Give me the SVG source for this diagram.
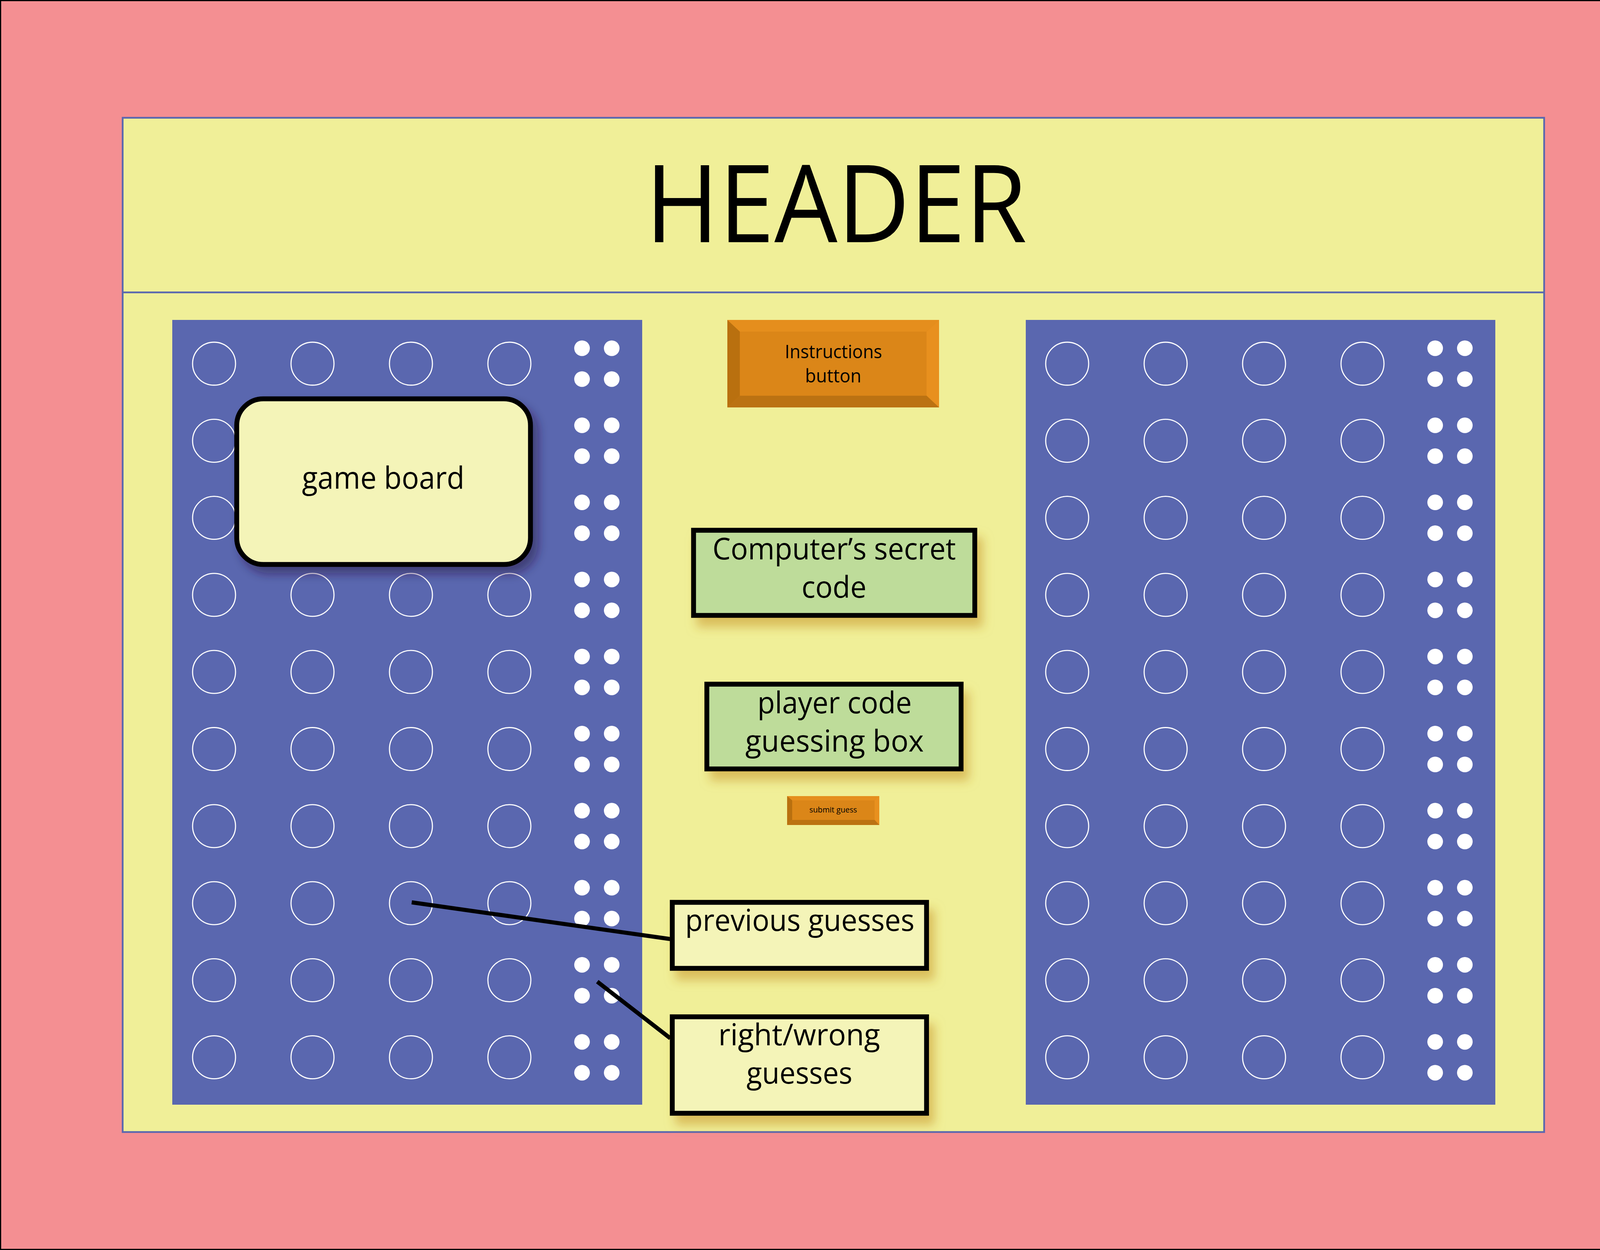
<svg xmlns="http://www.w3.org/2000/svg" width="4267" height="3200" viewBox="0 0 4267 3200">
<style>
.lbl{font-family:"Open Sans","Liberation Sans",sans-serif;fill:#000;text-anchor:start}
.peg{fill:none;stroke:#fff;stroke-width:2.8}
.dot{fill:#fff}
.panel{fill:#5A67AF}
.box{stroke:#000;stroke-width:12.5}
.conn{stroke:#000;stroke-width:10.5;stroke-linecap:butt;fill:none}
</style>
<defs>
<filter id="shBlue" x="-10%" y="-10%" width="130%" height="140%">
<feGaussianBlur in="SourceAlpha" stdDeviation="12"/>
<feOffset dx="14" dy="18" result="b"/>
<feFlood flood-color="#281440" flood-opacity="0.5"/>
<feComposite in2="b" operator="in"/>
<feMerge><feMergeNode/><feMergeNode in="SourceGraphic"/></feMerge>
</filter>
<filter id="shGold" x="-10%" y="-20%" width="130%" height="160%">
<feGaussianBlur in="SourceAlpha" stdDeviation="13"/>
<feOffset dx="14" dy="24" result="b"/>
<feFlood flood-color="#C8962A" flood-opacity="0.55"/>
<feComposite in2="b" operator="in"/>
<feMerge><feMergeNode/><feMergeNode in="SourceGraphic"/></feMerge>
</filter>
<g id="row">
<circle class="peg" cx="548" cy="0" r="55"/>
<circle class="peg" cx="800" cy="0" r="55"/>
<circle class="peg" cx="1052" cy="0" r="55"/>
<circle class="peg" cx="1304" cy="0" r="55"/>
<circle class="dot" cx="1490" cy="-39.5" r="20"/>
<circle class="dot" cx="1566" cy="-39.5" r="20"/>
<circle class="dot" cx="1490" cy="39.5" r="20"/>
<circle class="dot" cx="1566" cy="39.5" r="20"/>
</g>
</defs>

<g id="background">
<rect x="1.5" y="1.5" width="4264" height="3197" fill="#F48F92" stroke="#000" stroke-width="3"/>
<rect x="314" y="301.5" width="3639" height="2596.5" fill="#F0EF98" stroke="#5A67AF" stroke-width="4.5"/>
<line x1="314" y1="748.5" x2="3953" y2="748.5" stroke="#5A67AF" stroke-width="4.5"/>
</g>

<g id="header">
<text class="lbl" x="1652" y="620" font-size="276" textLength="977" lengthAdjust="spacingAndGlyphs">HEADER</text>
</g>

<g id="left-board">
<rect class="panel" x="441" y="819" width="1203" height="2009"/>
<use href="#row" y="931"/>
<use href="#row" y="1128.3"/>
<use href="#row" y="1325.6"/>
<use href="#row" y="1522.9"/>
<use href="#row" y="1720.2"/>
<use href="#row" y="1917.5"/>
<use href="#row" y="2114.8"/>
<use href="#row" y="2312.1"/>
<use href="#row" y="2509.4"/>
<use href="#row" y="2706.7"/>
</g>

<g id="right-board">
<rect class="panel" x="2626" y="819" width="1202" height="2009"/>
<use href="#row" x="2184" y="931"/>
<use href="#row" x="2184" y="1128.3"/>
<use href="#row" x="2184" y="1325.6"/>
<use href="#row" x="2184" y="1522.9"/>
<use href="#row" x="2184" y="1720.2"/>
<use href="#row" x="2184" y="1917.5"/>
<use href="#row" x="2184" y="2114.8"/>
<use href="#row" x="2184" y="2312.1"/>
<use href="#row" x="2184" y="2509.4"/>
<use href="#row" x="2184" y="2706.7"/>
</g>

<g id="game-board">
<rect class="box" x="606" y="1021" width="752" height="424" rx="68" ry="68" fill="#F4F4B8" filter="url(#shBlue)"/>
<text class="lbl" x="773" y="1251" font-size="78" textLength="416" lengthAdjust="spacingAndGlyphs">game board</text>
</g>

<g id="instructions-button">
<rect x="1862" y="819" width="542" height="224" fill="#DB8618"/>
<polygon points="1862,819 2404,819 2372,849 1894,849" fill="#E58E1D"/>
<polygon points="2404,819 2404,1043 2372,1013 2372,849" fill="#E8901E"/>
<polygon points="1862,819 1894,849 1894,1013 1862,1043" fill="#B9700F"/>
<polygon points="1862,1043 1894,1013 2372,1013 2404,1043" fill="#BB7212"/>
<text class="lbl" x="2009" y="917" font-size="47" textLength="249" lengthAdjust="spacingAndGlyphs">Instructions</text>
<text class="lbl" x="2061" y="979" font-size="47" textLength="144" lengthAdjust="spacingAndGlyphs">button</text>
</g>

<g id="secret-code">
<rect class="box" x="1775.5" y="1357.5" width="720" height="218" fill="#BEDC9A" filter="url(#shGold)"/>
<text class="lbl" x="1824" y="1432" font-size="76" textLength="623" lengthAdjust="spacingAndGlyphs">Computer’s secret</text>
<text class="lbl" x="2052" y="1530" font-size="76" textLength="166" lengthAdjust="spacingAndGlyphs">code</text>
</g>

<g id="guess-box">
<rect class="box" x="1809.5" y="1751.5" width="651" height="217" fill="#BEDC9A" filter="url(#shGold)"/>
<text class="lbl" x="1939" y="1826" font-size="76" textLength="395" lengthAdjust="spacingAndGlyphs">player code</text>
<text class="lbl" x="1908" y="1924" font-size="76" textLength="457" lengthAdjust="spacingAndGlyphs">guessing box</text>
</g>

<g id="submit-button">
<rect x="2015" y="2038" width="236" height="74" fill="#DB8618"/>
<polygon points="2015,2038 2251,2038 2239,2049 2028,2049" fill="#E58E1D"/>
<polygon points="2251,2038 2251,2112 2239,2099 2239,2049" fill="#E8901E"/>
<polygon points="2015,2038 2028,2049 2028,2099 2015,2112" fill="#B9700F"/>
<polygon points="2015,2112 2028,2099 2239,2099 2251,2112" fill="#BB7212"/>
<text class="lbl" x="2072" y="2080" font-size="20" textLength="122" lengthAdjust="spacingAndGlyphs">submit guess</text>
</g>

<g id="connectors">
<line class="conn" x1="1054" y1="2310" x2="1716" y2="2404"/>
<line class="conn" x1="1529" y1="2513" x2="1716" y2="2658"/>
</g>

<g id="previous-guesses">
<rect class="box" x="1721" y="2310" width="651" height="169" fill="#F4F4B8" filter="url(#shGold)"/>
<text class="lbl" x="1754" y="2383" font-size="76" textLength="587" lengthAdjust="spacingAndGlyphs">previous guesses</text>
</g>

<g id="right-wrong">
<rect class="box" x="1721" y="2603" width="651" height="247" fill="#F4F4B8" filter="url(#shGold)"/>
<text class="lbl" x="1839" y="2676" font-size="76" textLength="414" lengthAdjust="spacingAndGlyphs">right/wrong</text>
<text class="lbl" x="1911" y="2774" font-size="76" textLength="271" lengthAdjust="spacingAndGlyphs">guesses</text>
</g>
</svg>
